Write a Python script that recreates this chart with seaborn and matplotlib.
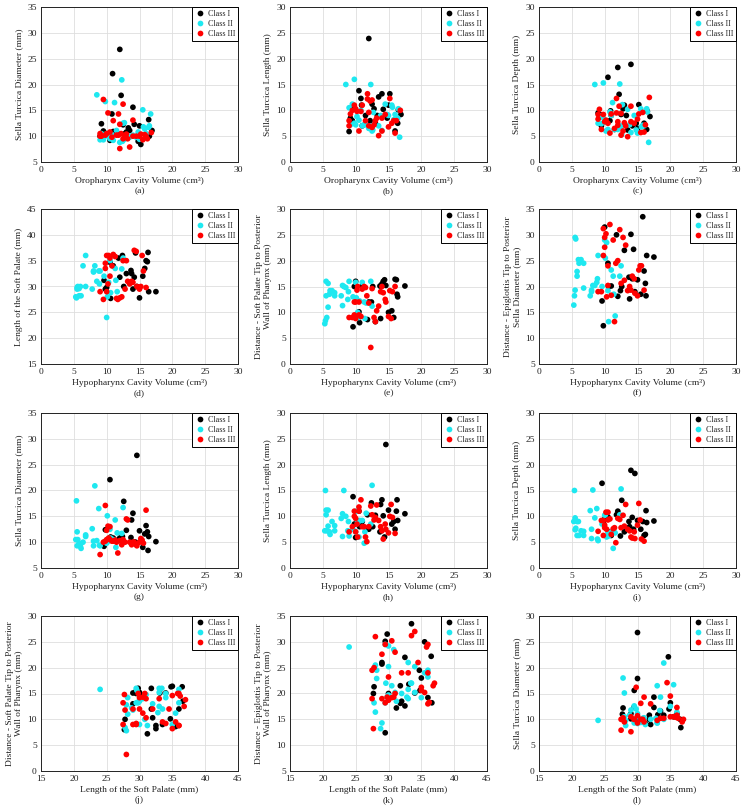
import seaborn as sns
import matplotlib.pyplot as plt
import pandas as pd

# ---- data (one value per subject) ----
# Class I
c1_oro    = [10.5, 9.2, 9.0, 10.9, 9.5, 11.5, 12.8, 13.0, 13.5, 12.2, 14.2, 11.0, 10.8, 14.0, 16.5, 16.0, 12.0, 12.5, 14.8, 13.3, 16.4, 15.0, 15.2, 16.9, 9.5]
c1_hypo   = [9.6, 9.8, 10.0, 10.5, 10.6, 11.0, 11.8, 12.0, 12.4, 12.6, 13.0, 13.7, 13.8, 14.0, 14.2, 14.4, 14.6, 15.0, 15.5, 15.8, 16.0, 16.2, 16.3, 16.4, 17.5]
c1_diam   = [9.2, 12.4, 10.0, 22.1, 11.0, 10.8, 10.5, 10.8, 11.1, 17.9, 12.3, 10.9, 14.3, 15.6, 10.0, 10.0, 26.8, 12.2, 9.0, 11.6, 13.2, 12.0, 8.4, 11.1, 10.1]
c1_len    = [13.8, 8.5, 5.9, 11.0, 8.0, 9.0, 10.3, 7.5, 12.6, 8.0, 10.2, 7.0, 12.3, 13.2, 10.1, 6.0, 23.9, 11.2, 8.5, 9.0, 7.5, 11.0, 13.2, 9.2, 10.5]
c1_depth  = [16.4, 8.7, 9.5, 9.9, 7.0, 6.3, 10.3, 11.0, 6.2, 13.1, 7.0, 9.0, 8.0, 18.9, 9.8, 7.5, 18.3, 9.2, 7.5, 9.0, 6.3, 6.5, 11.1, 8.8, 9.1]
c1_palate = [31.2, 29.5, 29.8, 34.7, 27.7, 34.0, 35.5, 31.8, 36.0, 30.0, 32.5, 33.1, 32.5, 29.5, 31.8, 36.5, 30.0, 27.8, 32.0, 33.5, 35.0, 34.8, 36.6, 29.0, 29.0]
c1_dtip   = [7.2, 15.0, 16.0, 10.1, 8.0, 15.1, 8.6, 12.0, 12.0, 15.0, 8.2, 15.1, 8.8, 15.5, 16.0, 16.3, 15.2, 10.0, 10.3, 9.0, 16.4, 16.3, 13.5, 13.0, 15.1]
c1_epi    = [17.2, 12.4, 31.5, 24.5, 20.0, 20.1, 30.0, 18.1, 19.2, 20.0, 27.0, 21.8, 17.6, 30.1, 21.5, 27.2, 19.0, 21.3, 18.5, 33.5, 23.0, 20.6, 18.2, 26.0, 25.7]

# Class II
c2_oro    = [9.2, 8.5, 16.5, 9.5, 10.0, 14.5, 10.5, 11.0, 12.0, 13.8, 15.8, 11.5, 12.7, 9.0, 14.0, 12.3, 10.8, 11.2, 15.0, 12.6, 9.8, 13.5, 15.5, 10.2, 12.5, 14.8, 16.0, 16.7, 12.4, 15.6, 16.4, 9.8]
c2_hypo   = [5.3, 5.4, 5.5, 5.5, 5.6, 5.8, 5.8, 6.0, 6.1, 6.4, 6.8, 6.8, 7.8, 8.0, 8.0, 8.2, 8.5, 8.8, 8.9, 9.0, 9.6, 10.0, 10.1, 10.3, 10.5, 10.6, 11.0, 11.3, 11.4, 11.6, 12.3, 12.5]
c2_diam   = [10.5, 18.0, 12.0, 9.3, 10.5, 9.8, 9.5, 9.2, 8.8, 10.0, 11.4, 11.1, 12.6, 9.3, 10.2, 20.9, 10.3, 16.5, 9.4, 9.3, 10.0, 9.8, 15.1, 10.2, 12.5, 10.8, 10.5, 14.3, 9.0, 11.8, 11.7, 16.7]
c2_len    = [7.2, 15.0, 10.3, 11.2, 7.2, 11.2, 8.1, 7.0, 6.5, 9.0, 8.2, 7.2, 9.6, 10.5, 6.1, 15.0, 10.0, 7.2, 9.0, 6.2, 7.5, 7.0, 11.0, 8.8, 6.0, 9.2, 9.2, 4.8, 7.0, 10.6, 8.5, 16.0]
c2_depth  = [9.0, 15.0, 9.7, 7.4, 7.7, 9.0, 6.3, 9.0, 6.3, 7.2, 7.1, 6.3, 11.1, 7.5, 5.7, 15.1, 9.7, 11.5, 5.6, 5.3, 8.5, 10.2, 10.3, 6.0, 6.8, 6.2, 7.0, 3.8, 7.0, 6.8, 10.3, 15.3]
c2_palate = [28.0, 27.8, 29.8, 29.5, 30.0, 28.2, 29.6, 30.0, 28.2, 34.0, 36.0, 30.0, 29.5, 33.0, 32.8, 34.0, 31.0, 33.0, 30.5, 33.0, 32.0, 24.0, 28.0, 30.8, 35.0, 28.8, 36.0, 33.5, 31.2, 29.0, 33.4, 35.5]
c2_dtip   = [7.8, 8.4, 13.2, 16.0, 9.0, 11.0, 15.6, 13.5, 14.2, 14.2, 13.2, 13.8, 13.2, 15.2, 11.3, 15.0, 14.8, 12.5, 14.0, 16.0, 13.0, 15.8, 12.8, 10.0, 9.0, 12.2, 15.8, 12.0, 8.8, 11.8, 16.0, 11.2]
c2_epi    = [16.4, 18.2, 19.3, 29.5, 29.2, 22.9, 22.0, 25.2, 24.5, 25.2, 24.5, 19.7, 18.2, 19.0, 19.3, 20.2, 20.2, 20.8, 21.5, 26.0, 20.0, 29.0, 25.5, 28.5, 19.2, 13.2, 23.2, 22.0, 18.5, 14.3, 22.0, 24.0]

# Class III
c3_oro    = [12.0, 9.0, 9.5, 9.8, 12.0, 9.0, 14.0, 10.5, 11.0, 12.2, 11.8, 11.5, 13.0, 14.0, 13.5, 15.8, 12.5, 10.0, 9.2, 10.2, 11.8, 14.5, 16.2, 12.8, 16.0, 13.2, 15.5, 15.0, 16.8, 15.2, 10.8, 12.5]
c3_hypo   = [9.0, 9.5, 9.8, 9.8, 10.0, 10.0, 10.2, 10.3, 10.5, 10.5, 10.8, 11.0, 11.3, 11.5, 11.7, 12.0, 12.3, 12.5, 12.8, 13.0, 13.2, 13.5, 13.8, 14.0, 14.2, 14.5, 14.6, 15.0, 15.2, 15.4, 15.6, 16.0]
c3_diam   = [7.6, 10.0, 17.1, 10.2, 12.3, 10.5, 13.1, 10.8, 13.0, 10.5, 10.2, 10.2, 10.4, 10.0, 7.9, 10.3, 9.5, 10.5, 10.0, 14.5, 14.3, 10.0, 9.5, 10.0, 10.0, 9.5, 9.3, 10.0, 10.7, 10.4, 9.8, 16.2]
c3_len    = [7.0, 8.0, 10.0, 11.0, 9.6, 7.0, 8.5, 6.0, 11.0, 11.8, 13.2, 8.0, 8.0, 6.0, 5.1, 8.0, 12.0, 10.3, 9.3, 9.8, 12.2, 9.2, 8.0, 7.2, 5.6, 8.5, 7.5, 6.8, 10.0, 12.3, 9.8, 6.7]
c3_depth  = [7.1, 9.2, 6.3, 9.2, 7.8, 8.3, 10.8, 7.5, 9.3, 10.8, 9.5, 6.5, 7.6, 7.8, 4.9, 9.6, 9.4, 7.8, 10.2, 8.1, 12.3, 7.5, 7.2, 6.0, 5.8, 7.0, 5.7, 8.3, 12.5, 9.3, 5.6, 5.2]
c3_palate = [29.0, 27.5, 34.5, 33.5, 36.0, 29.0, 30.5, 36.0, 32.0, 35.5, 34.0, 36.2, 35.8, 27.7, 27.5, 27.8, 28.0, 35.0, 29.5, 35.0, 31.0, 30.5, 31.0, 30.8, 37.0, 36.8, 30.0, 29.5, 30.0, 36.0, 33.0, 29.8]
c3_dtip   = [9.0, 9.0, 12.0, 9.5, 8.8, 12.0, 14.3, 15.0, 12.0, 9.5, 9.2, 14.5, 15.0, 14.8, 13.2, 11.8, 3.2, 14.6, 9.0, 8.2, 10.3, 11.2, 14.0, 15.0, 13.8, 12.5, 12.0, 9.2, 14.2, 8.8, 14.0, 15.0]
c3_epi    = [19.0, 19.0, 26.0, 31.2, 29.5, 27.6, 30.2, 18.0, 24.0, 20.2, 32.0, 18.3, 29.0, 13.2, 24.5, 25.0, 31.0, 20.6, 29.5, 21.2, 28.0, 19.2, 20.0, 19.3, 22.0, 21.5, 18.7, 18.2, 23.2, 24.0, 24.0, 19.3]

classes = ["Class I", "Class II", "Class III"]
colors = {"Class I": "#000000", "Class II": "#1ee8f0", "Class III": "#ff0000"}

frames = []
for name, vals in zip(classes, [
        (c1_oro, c1_hypo, c1_diam, c1_len, c1_depth, c1_palate, c1_dtip, c1_epi),
        (c2_oro, c2_hypo, c2_diam, c2_len, c2_depth, c2_palate, c2_dtip, c2_epi),
        (c3_oro, c3_hypo, c3_diam, c3_len, c3_depth, c3_palate, c3_dtip, c3_epi)]):
    d = pd.DataFrame(dict(zip(["oro", "hypo", "diam", "len", "depth", "palate", "dtip", "epi"], vals)))
    d["Class"] = name
    frames.append(d)
df = pd.concat(frames, ignore_index=True)

oro_lbl = "Oropharynx Cavity Volume (cm\u00b3)"
hyp_lbl = "Hypopharynx Cavity Volume (cm\u00b3)"
pal_lbl = "Length of the Soft Palate (mm)"
dtip_lbl = "Distance - Soft Palate Tip to Posterior\nWall of Pharynx (mm)"

panels = [
    ("oro", "diam", oro_lbl, "Sella Turcica Diameter (mm)", (0, 30), (5, 35), "a"),
    ("oro", "len", oro_lbl, "Sella Turcica Length (mm)", (0, 30), (0, 30), "b"),
    ("oro", "depth", oro_lbl, "Sella Turcica Depth (mm)", (0, 30), (0, 30), "c"),
    ("hypo", "palate", hyp_lbl, "Length of the Soft Palate (mm)", (0, 30), (15, 45), "d"),
    ("hypo", "dtip", hyp_lbl, dtip_lbl, (0, 30), (0, 30), "e"),
    ("hypo", "epi", hyp_lbl, "Distance - Epiglottis Tip to Posterior\nSella Diameter (mm)", (0, 30), (5, 35), "f"),
    ("hypo", "diam", hyp_lbl, "Sella Turcica Diameter (mm)", (0, 30), (5, 35), "g"),
    ("hypo", "len", hyp_lbl, "Sella Turcica Length (mm)", (0, 30), (0, 30), "h"),
    ("hypo", "depth", hyp_lbl, "Sella Turcica Depth (mm)", (0, 30), (0, 30), "i"),
    ("palate", "dtip", pal_lbl, dtip_lbl, (15, 45), (0, 30), "j"),
    ("palate", "epi", pal_lbl, "Distance - Epiglottis Tip to Posterior\nWall of Pharynx (mm)", (15, 45), (5, 35), "k"),
    ("palate", "diam", pal_lbl, "Sella Turcica Diameter (mm)", (15, 45), (0, 30), "l"),
]

sns.set_style("white")
plt.rcParams["font.family"] = ["Liberation Serif", "DejaVu Serif"]

W, H = 744, 809
fig = plt.figure(figsize=(W / 100, H / 100), dpi=100)
lefts = [41, 290, 539]
tops = [7, 209, 413, 616]
aw, ah = 197, 155
fs = 6.8

for i, (xc, yc, xl, yl, xlim, ylim, tag) in enumerate(panels):
    r, c = divmod(i, 3)
    ax = fig.add_axes([lefts[c] / W, 1 - (tops[r] + ah) / H, aw / W, ah / H])
    sns.scatterplot(data=df, x=xc, y=yc, hue="Class", palette=colors, s=17,
                    edgecolor="none", linewidth=0, ax=ax, zorder=3)
    ax.set_xlim(*xlim)
    ax.set_ylim(*ylim)
    ax.set_xticks(range(xlim[0], xlim[1] + 1, 5))
    ax.set_yticks(range(ylim[0], ylim[1] + 1, 5))
    ax.grid(True, color="#dedede", linewidth=0.6)
    ax.tick_params(direction="in", length=2.5, labelsize=fs, pad=3, color="#333333",
                   labelcolor="#222222")
    for sp in ax.spines.values():
        sp.set_color("#222222")
        sp.set_linewidth(0.7)
    ax.set_xlabel(xl + "\n(" + tag + ")", fontsize=fs, color="#222222", labelpad=2, linespacing=1.3)
    ax.set_ylabel(yl, fontsize=fs, color="#222222", labelpad=3, linespacing=1.15)
    leg = ax.legend(loc="upper right", fontsize=5.8, frameon=True, fancybox=False,
                    framealpha=1, edgecolor="black", borderpad=0.35, handletextpad=0.3,
                    labelspacing=0.25, handlelength=1.3, borderaxespad=0.0, markerscale=1.0)
    leg.get_frame().set_linewidth(0.7)

plt.savefig("out.png", dpi=100)
